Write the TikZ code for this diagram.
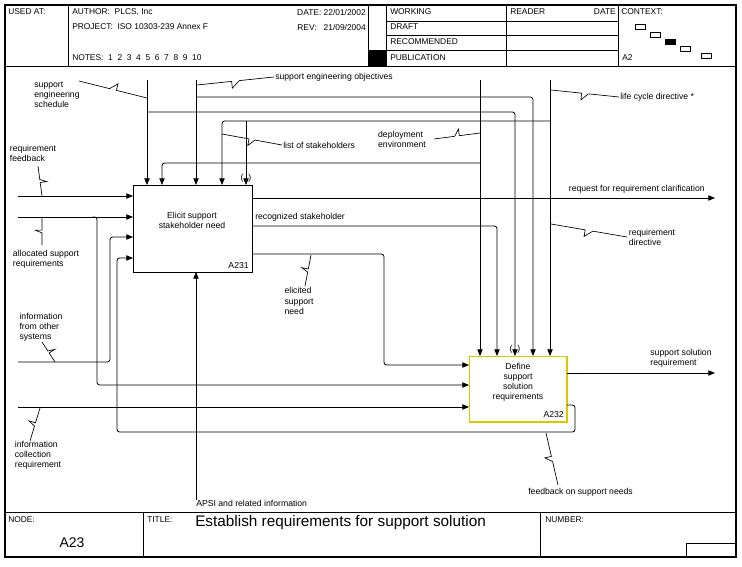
\documentclass[tikz,border=0pt]{standalone}
\usepackage{fontspec}
\setmainfont{Liberation Sans}
\usetikzlibrary{arrows.meta,calc}
\definecolor{boxyellow}{RGB}{215,200,0}
\begin{document}
\begin{tikzpicture}[x=0.75pt,y=-0.75pt,
  lbl/.style={font=\fontsize{6.5}{7.6}\selectfont,inner sep=0pt,align=left},
  hd/.style={font=\fontsize{6.3}{7}\selectfont,inner sep=0pt,anchor=west},
  ln/.style={line width=0.6pt},
  ar/.style={ln,-{Triangle[length=5pt,width=4pt]},rounded corners=2pt},
  sq/.style={line width=0.5pt},
  act/.style={draw,line width=0.8pt,minimum width=89pt,minimum height=65pt,anchor=north west,inner sep=0pt}]
\useasboundingbox (0,0) rectangle (742,567);
\fill[white] (0,0) rectangle (742,567);
% frame
\draw[line width=0.8pt] (5,5) rectangle (736,557);
\draw[ln] (5,66) -- (736,66);
\draw[ln] (5,512) -- (736,512);
\foreach \x in {68,368,386,506,618} \draw[ln] (\x,5) -- (\x,66);
\foreach \y in {21,35,50} \draw[ln] (386,\y) -- (618,\y);
\fill (368,50) rectangle (386,66);
\draw[ln] (143,512) -- (143,557);
\draw[ln] (540,512) -- (540,557);
\draw[ln] (686,557) -- (686,543) -- (736,543);
% header text
\node[hd] (h1) at (8,12) {USED AT:};
\node[hd] (h2) at (72,12) {AUTHOR:\ \ PLCS, Inc};
\node[hd] (h3) at (72,27) {PROJECT:\ \ ISO 10303-239 Annex F};
\node[hd] (h4) at (72,58) {NOTES:\ \ 1\ \ 2\ \ 3\ \ 4\ \ 5\ \ 6\ \ 7\ \ 8\ \ 9\ \ 10};
\node[hd,anchor=east] (h5) at (366,12) {DATE:\ 22/01/2002};
\node[hd,anchor=east] (h6) at (366,27) {REV:\ \ \ 21/09/2004};
\node[hd] (h7) at (390,12) {WORKING};
\node[hd] (h8) at (390,27) {DRAFT};
\node[hd] (h9) at (390,42) {RECOMMENDED};
\node[hd] (h10) at (390,58) {PUBLICATION};
\node[hd] (h11) at (510,12) {READER};
\node[hd,anchor=east] (h12) at (616,12) {DATE};
\node[hd] (h13) at (621,12) {CONTEXT:};
\node[hd] (h14) at (622,58) {A2};
\draw[line width=0.5pt] (635,24) rectangle (645,29);
\draw[line width=0.5pt] (650,32) rectangle (660,37);
\fill (665,39) rectangle (676,45);
\draw[line width=0.5pt] (680,46) rectangle (690,51);
\draw[line width=0.5pt] (701,53) rectangle (711,58);
% footer
\node[hd] (f1) at (8,520) {NODE:};
\node[font=\fontsize{10.5}{12}\selectfont,inner sep=0pt] (f2) at (72,543) {A23};
\node[hd] (f3) at (147,520) {TITLE:};
\node[font=\fontsize{11.5}{13}\selectfont,inner sep=0pt,anchor=west] (f4) at (195,523) {Establish requirements for support solution};
\node[hd] (f5) at (545,520) {NUMBER:};
% activity boxes
\node[act] (A1) at (133,185) {};
\node[lbl,align=center] at (192,220) {Elicit support\\stakeholder need};
\node[lbl,anchor=south east] at (249,269) {A231};
\node[act,draw=boxyellow,line width=1pt,minimum width=73pt,minimum height=49pt] (A2) at (469,356) {};
\node[lbl,align=center] at (518,382) {Define\\support\\solution\\requirements};
\node[lbl,anchor=south east] at (564,418) {A232};
% A231 controls
\draw[ar] (147,80) -- (147,185);
\draw[ar] (196,80) -- (196,185);
\draw[ar] (480,80) -- (480,356);
\draw[ar] (550,80) -- (550,356);
\draw[ar] (480,163) -- (162,163) -- (162,185);
\draw[ar] (550,121) -- (222,121) -- (222,185);
\draw[ar] (246,121) -- (246,185);
\draw[ar] (196,97) -- (533,97) -- (533,356);
\draw[ar] (147,112) -- (515,112) -- (515,356);
\node[lbl] at (246,178) {(\ \ )};
\node[lbl] at (515,349) {(\ \ )};
% A231 inputs
\draw[ar] (18,196) -- (133,196);
\draw[ar] (18,217) -- (133,217);
\draw[ar] (18,362) -- (110,362) -- (110,237) -- (133,237);
\draw[ar] (95,217) -- (97,217) -- (97,385) -- (469,385);
\draw[ar] (18,407) -- (469,407);
\draw[ar] (567,405) -- (575,405) -- (575,432) -- (117,432) -- (117,258) -- (133,258);
\draw[ar] (196,500) -- (196,272);
% A231 outputs
\draw[ar] (252,198) -- (715,198);
\draw[ar] (252,226) -- (497,226) -- (497,356);
\draw[ar] (252,254) -- (384,254) -- (384,365) -- (469,365);
\draw[ar] (567,373) -- (715,373);
% labels
\node[lbl,anchor=west] (l1) at (275,77) {support engineering objectives};
\node[lbl] (l2) at (57,95) {support\\engineering\\schedule};
\node[lbl,anchor=west] (l3) at (620,97) {life cycle directive *};
\node[lbl] (l4) at (402,139) {deployment\\environment};
\node[lbl,anchor=west] (l5) at (283,145) {list of stakeholders};
\node[lbl] (l6) at (33,153) {requirement\\feedback};
\node[lbl,anchor=east] (l7) at (705,189) {request for requirement clarification};
\node[lbl,anchor=west] (l8) at (255,217) {recognized stakeholder};
\node[lbl] (l9) at (652,237) {requirement\\directive};
\node[lbl] (l10) at (46,259) {allocated support\\requirements};
\node[lbl] (l11) at (299,301) {elicited\\support\\need};
\node[lbl] (l12) at (41,327) {information\\from other\\systems};
\node[lbl] (l13) at (681,358) {support solution\\requirement};
\node[lbl] (l14) at (38,455) {information\\collection\\requirement};
\node[lbl,anchor=west] (l15) at (528,492) {feedback on support needs};
\node[lbl,anchor=west] (l16) at (196,503) {APSI and related information};
% squiggles
\foreach \a/\b in {{274,77}/{197,85},{79,81}/{147,98},{619,97}/{551,90},{434,139}/{480,133},
  {282,145}/{222,134},{38,166}/{42,196},{627,237}/{551,224},{42,245}/{42,218},
  {305,286}/{311,255},{42,342}/{55,362},{30,441}/{40,408},{558,485}/{546,433}}{
  \draw[sq] (\a) -- ($(\a)!0.45!(\b)$) -- ($(\a)!0.55!(\b)!5pt!90:(\b)$) -- ($(\a)!0.55!(\b)$) -- (\b);
}
\end{tikzpicture}
\end{document}
